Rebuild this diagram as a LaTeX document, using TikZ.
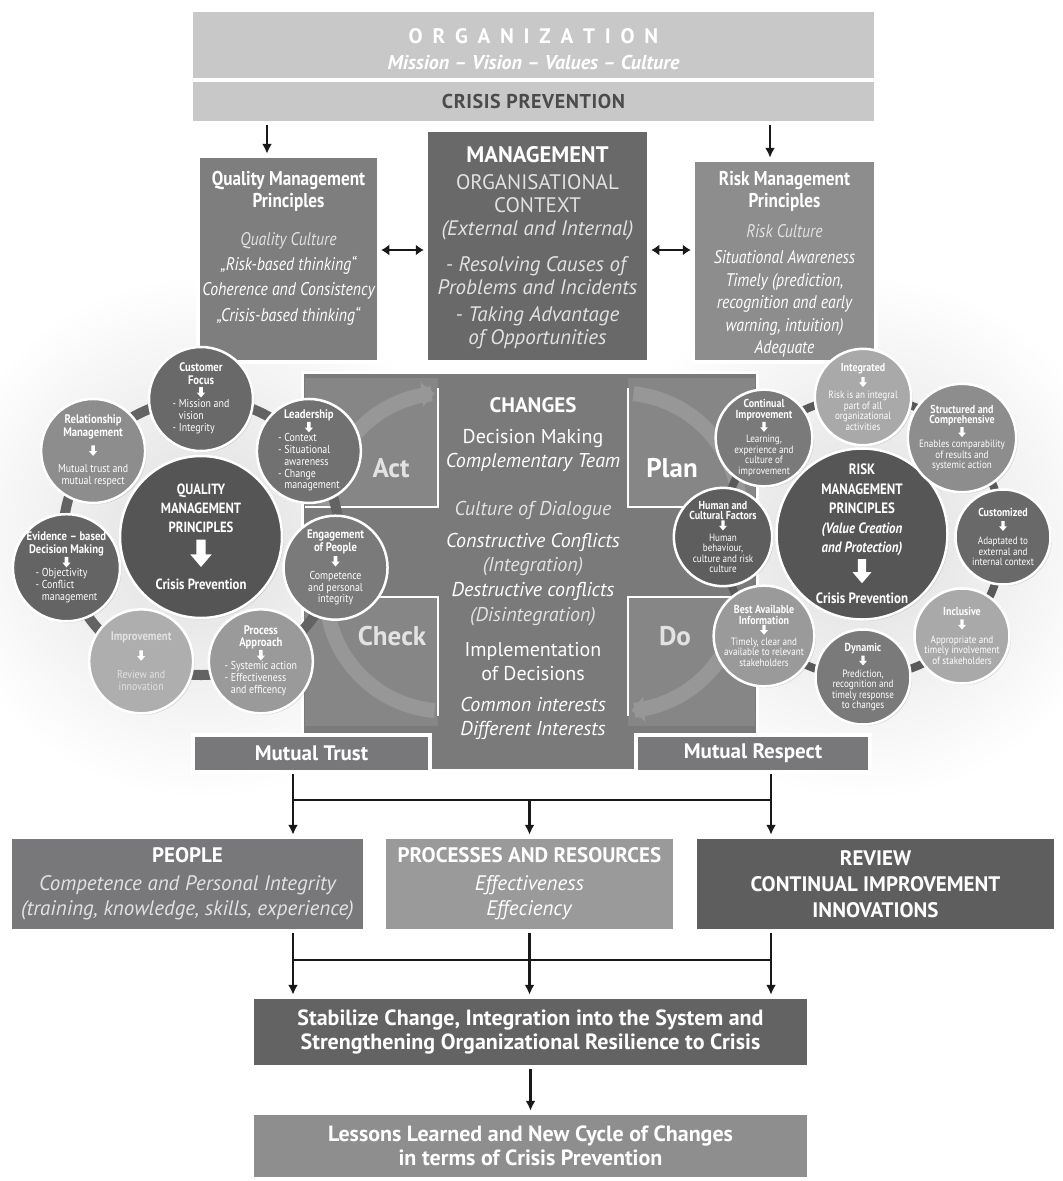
\documentclass[tikz,border=0pt]{standalone}
\usepackage{fontspec}
\setmainfont{PT Sans}
\newfontfamily\condfont[FakeStretch=0.86]{PT Sans}
\usetikzlibrary{arrows.meta, positioning, shadows, calc}
\definecolor{ctop}{HTML}{C8C8C9}
\definecolor{ctoptext}{HTML}{4B4B4C}
\definecolor{cqmbox}{HTML}{7E7E7F}
\definecolor{cmgbox}{HTML}{69696A}
\definecolor{crkbox}{HTML}{8D8D8E}
\definecolor{cpanel}{HTML}{7A7A7B}
\definecolor{cquad}{HTML}{868687}
\definecolor{carc}{HTML}{979798}
\definecolor{cdark}{HTML}{5E5E5F}
\definecolor{cmid}{HTML}{78787A}
\definecolor{clight}{HTML}{9A9A9B}
\definecolor{cring}{HTML}{636364}
\definecolor{cfaint}{HTML}{E2E2E2}
\newcommand{\fs}[2]{\fontsize{#1}{#2}\selectfont}
% \darr[scale]: the white down arrow used inside the principle circles
\newcommand{\darr}[1][1]{\tikz[x=#1pt, y=#1pt, baseline=0pt]\fill[white, draw=none] (-1.8,10.5)--(1.8,10.5)--(1.8,4.8)--(4.1,4.8)--(0,0)--(-4.1,4.8)--(-1.8,4.8)--cycle;}
\newcommand{\lst}[1]{\begin{tabular}{@{}l@{}}#1\end{tabular}}
\newcommand{\ls}{\hspace{9.8pt}}
\tikzset{
  box/.style={draw=white, fill=#1, line width=4.5pt, inner sep=0pt, align=center, text=white,
    drop shadow={opacity=0.22, shadow xshift=1.5pt, shadow yshift=-1.5pt}},
  box/.default=cmid,
  txt/.style={text=white, align=center, inner sep=0pt},
  disc/.style={circle, draw=white, fill=#1, line width=2.5pt, inner sep=0pt, minimum size=104pt,
    align=center, text=white, font=\condfont\fs{11.5}{11.8},
    drop shadow={opacity=0.25, shadow xshift=1.5pt, shadow yshift=-1.5pt}},
  rdisc/.style={disc=#1, minimum size=95pt, font=\condfont\fs{10.6}{10.6}},
  wire/.style={draw=black!90, line width=2.4pt},
  arrow/.style={wire, -{Latex[length=10pt, width=10pt]}},
  dblarrow/.style={draw=black!90, line width=2.2pt, {Latex[length=8pt, width=11pt]}-{Latex[length=8pt, width=11pt]}},
  pdca/.style={draw=carc, line width=15pt},
}
\newcommand{\lt}[1]{{\fontsize{12.4}{11.8}\selectfont\bfseries #1}}
\newcommand{\rt}[1]{{\fontsize{11.6}{10.6}\selectfont\bfseries #1}}
\begin{document}
\begin{tikzpicture}[x=1pt, y=-1pt]
\useasboundingbox (0,0) rectangle (1063,1181);
% soft halo behind the two principle rings
\begin{scope}
  \clip (0,0) rectangle (1063,1181);
  \shade[inner color=black!13, outer color=white] (201,537) circle[radius=262];
  \shade[inner color=black!13, outer color=white] (863,537) circle[radius=262];
\end{scope}

% organization
\node[box=ctop, minimum width=685pt, minimum height=70pt] (org) at (533.5,45) {};
\node[txt, font=\fs{21}{26}\bfseries] (orgtext) at (533.5,49)
  {O\ls R\ls G\ls A\ls N\ls I\ls Z\ls A\ls T\ls I\ls O\ls N\\{\fs{20}{26}\itshape Mission – Vision – Values – Culture}};
\node[box=ctop, minimum width=685pt, minimum height=43pt, text=ctoptext, font=\fs{20}{22}\bfseries\addfontfeature{LetterSpace=3}] (crisis) at (533.5,101.5) {CRISIS PREVENTION};

% three principle boxes
\node[box=cqmbox, minimum width=181pt, minimum height=206pt] (qmp) at (288.5,259) {};
\node[txt, anchor=north, font=\condfont\fs{20}{22}\bfseries] (qmptitle) at (288.5,171) {Quality Management\\Principles};
\node[txt, anchor=north, font=\condfont\fs{18.3}{25.3}\itshape] (qmptext) at (288.5,232)
  {\textcolor{cfaint}{Quality Culture}\\„Risk-based thinking“\\Coherence and Consistency\\„Crisis-based thinking“};

\node[box=cmgbox, minimum width=223pt, minimum height=232pt] (mgmt) at (537.5,246) {};
\node[txt, anchor=north, font=\fs{21}{23}, text=cfaint] (mgmttext) at (537.5,146)
  {\textcolor{white}{\fs{22.5}{23}\bfseries MANAGEMENT}\\[4pt]ORGANISATIONAL\\CONTEXT\\\textit{(External and Internal)}\\[13pt]\textit{- Resolving Causes of}\\\textit{Problems and Incidents}\\[4pt]\textit{- Taking Advantage}\\\textit{of Opportunities}};

\node[box=crkbox, minimum width=183pt, minimum height=202pt] (risk) at (784.5,261) {};
\node[txt, anchor=north, font=\condfont\fs{20}{22}\bfseries] (risktitle) at (784.5,171) {Risk Management\\Principles};
\node[txt, anchor=north, font=\condfont\fs{18.3}{22.5}\itshape] (risktext) at (784.5,224)
  {\textcolor{cfaint}{Risk Culture}\\[4pt]Situational Awareness\\Timely (prediction,\\recognition and early\\warning, intuition)\\Adequate};

\draw[arrow, line width=2pt] ([xshift=-21.5pt]qmp.north |- crisis.south) -- ([xshift=-21.5pt]qmp.north);
\draw[arrow, line width=2pt] ([xshift=-14.5pt]risk.north |- crisis.south) -- ([xshift=-14.5pt]risk.north);
\draw[dblarrow] ([yshift=9pt]qmp.east) -- ([yshift=9pt]qmp.east -| mgmt.west);
\draw[dblarrow] ([yshift=-4pt]mgmt.east) -- ([yshift=-4pt]mgmt.east -| risk.west);

% changes panel with the PDCA cycle
\node[box=cpanel, line width=3pt, minimum width=455pt, minimum height=398pt] (changes) at (530,571.5) {};
\fill[cquad] (305,378) rectangle (438,507) (628,378) rectangle (755,507)
  (305,597) rectangle (438,726) (628,597) rectangle (755,726);
\draw[white, line width=2.5pt] (305,507) -- (438,507) -- (438,388) (628,388) -- (628,507) -- (755,507)
  (305,597) -- (438,597) -- (438,716) (628,716) -- (628,597) -- (755,597);
\draw[pdca, -{Triangle[length=13pt, width=24pt]}] plot[domain=183:265, samples=40, smooth] ({445+119*cos(\x)}, {512+119*sin(\x)});
\draw[pdca] plot[domain=276:358, samples=40, smooth] ({621+119*cos(\x)}, {512+119*sin(\x)});
\draw[pdca, -{Triangle[length=13pt, width=24pt]}] plot[domain=2:85, samples=40, smooth] ({621+119*cos(\x)}, {592+119*sin(\x)});
\draw[pdca] plot[domain=95:177, samples=40, smooth] ({445+119*cos(\x)}, {592+119*sin(\x)});
\node[txt, font=\fs{27}{28}\bfseries, text=cfaint] (actq) at (391,468) {Act};
\node[txt, font=\fs{27}{28}\bfseries] (planq) at (672,468) {Plan};
\node[txt, font=\fs{27}{28}\bfseries, text=cfaint] (checkq) at (392,636) {Check};
\node[txt, font=\fs{27}{28}\bfseries, text=cfaint] (doq) at (675,636) {Do};
\node[txt, anchor=north, font=\fs{20}{23.5}] (changetext) at (533,397)
  {\textbf{\fs{21}{23.5}CHANGES}\\[8pt]Decision Making\\\textit{Complementary Team}\\[25pt]%
   \textit{\textcolor{cfaint}{Culture of Dialogue}}\\[8.5pt]\textit{Constructive Conflicts}\\\textit{\textcolor{cfaint}{(Integration)}}\\[2pt]%
   \textit{Destructive conflicts}\\[1.5pt]\textit{\textcolor{cfaint}{(Disintegration)}}\\[11.5pt]Implementation\\of Decisions\\[8pt]%
   \textit{Common interests}\\\textit{Different Interests}};
\node[box, minimum width=237pt, minimum height=37pt, font=\fs{21}{22}\bfseries] (trust) at (311.5,753.5) {Mutual Trust};
\node[box, minimum width=234pt, minimum height=37pt, font=\fs{21}{22}\bfseries] (respect) at (753,753.5) {Mutual Respect};

% quality management principles (left ring)
\coordinate (qc) at (201,537);
\draw[cring, line width=10pt] (qc) circle[radius=138];
\node[disc=cdark!90!black, minimum size=162pt, font=\condfont\fs{14.8}{19}\bfseries] (qmpc) at (qc)
  {QUALITY\\MANAGEMENT\\PRINCIPLES\\[6pt]\darr[2.6]\\[4pt]Crisis Prevention};
\node[disc=cmgbox] (custfocus) at ([shift={(-90:138)}]qc)
  {\lt{Customer}\\[1pt]\lt{Focus}\\[1pt]\darr\\[1pt]\lst{- Mission and\\\phantom{- }vision\\- Integrity}};
\node[disc=cqmbox!110] (leadership) at ([shift={(-38.57:138)}]qc)
  {\lt{Leadership}\\\darr\\\lst{- Context\\- Situational\\\phantom{- }awareness\\- Change\\\phantom{- }management}};
\node[disc=cpanel] (engagement) at ([shift={(12.86:138)}]qc)
  {\lt{Engagement}\\[1pt]\lt{of People}\\[1pt]\darr\\[1pt]Competence\\and personal\\integrity};
\node[disc=clight] (process) at ([shift={(64.29:138)}]qc)
  {\lt{Process}\\\lt{Approach}\\\darr\\\lst{- Systemic action\\- Effectiveness\\\phantom{- }and efficency}};
\node[disc=clight!80!white, text=cfaint] (improvement) at ([shift={(115.71:138)}]qc)
  {\lt{Improvement}\\[6pt]\darr\\[6pt]Review and\\innovation};
\node[disc=cmgbox!95!black] (evidence) at ([shift={(167.14:138)}]qc)
  {\lt{Evidence – based}\\[1pt]\lt{Decision Making}\\\darr\\\lst{- Objectivity\\- Conflict\\\phantom{- }management}};
\node[disc=crkbox] (relationship) at ([shift={(218.57:138)}]qc)
  {\lt{Relationship}\\[1pt]\lt{Management}\\[5pt]\darr\\[5pt]Mutual trust and\\mutual respect};

% risk management principles (right ring)
\coordinate (rc) at (863,537);
\draw[cring!90!black, line width=8pt] (rc) circle[radius=140];
\node[disc=cdark!92!black, minimum size=171pt, font=\condfont\fs{15}{19.5}\bfseries] (rmpc) at (862,534)
  {RISK\\MANAGEMENT\\PRINCIPLES\\\textit{(Value Creation}\\\textit{and Protection)}\\[2pt]\darr[2.3]\\[1pt]Crisis Prevention};
\node[rdisc=clight!85!white] (integrated) at ([shift={(-90:140)}]rc)
  {\rt{Integrated}\\[2pt]\darr[0.95]\\[1pt]Risk is an integral\\part of all\\organizational\\activities};
\node[rdisc=crkbox] (structured) at ([shift={(-45:140)}]rc)
  {\rt{Structured and}\\\rt{Comprehensive}\\\darr[0.95]\\Enables comparability\\of results and\\systemic action};
\node[rdisc=cmgbox] (customized) at ([shift={(0:140)}]rc)
  {\rt{Customized}\\[4pt]\darr[0.95]\\[3pt]Adaptated to\\external and\\internal context};
\node[rdisc=clight!85!white] (inclusive) at ([shift={(45:140)}]rc)
  {\rt{Inclusive}\\[3pt]\darr[0.95]\\[3pt]Appropriate and\\timely involvement\\of stakeholders};
\node[rdisc=cpanel] (dynamic) at ([shift={(90:140)}]rc)
  {\rt{Dynamic}\\[1pt]\darr[0.95]\\[1pt]Prediction,\\recognition and\\timely response\\to changes};
\node[rdisc=clight] (bestinfo) at ([shift={(135:140)}]rc)
  {\rt{Best Available}\\\rt{Information}\\\darr[0.95]\\Timely, clear and\\available to relevant\\stakeholders};
\node[rdisc=cdark] (humanfac) at ([shift={(180:140)}]rc)
  {\rt{Human and}\\\rt{Cultural Factors}\\\darr[0.95]\\Human\\behaviour,\\culture and risk\\culture};
\node[rdisc=cpanel] (continual) at ([shift={(225:140)}]rc)
  {\rt{Continual}\\\rt{Improvement}\\\darr[0.95]\\Learning,\\experience and\\culture of\\improvement};

% resources and outcome
\node[box=cmid, minimum width=355pt, minimum height=94pt, font=\fs{21}{25}] (people) at (187.5,884)
  {\textbf{PEOPLE}\\[3pt]\textit{\textcolor{cfaint}{Competence and Personal Integrity}}\\\textit{\textcolor{cfaint}{(training, knowledge, skills, experience)}}};
\node[box=clight, minimum width=291pt, minimum height=94pt, font=\fs{21}{25}] (proc) at (529.5,884)
  {\textbf{PROCESSES AND RESOURCES}\\[3pt]\textit{Effectiveness}\\\textit{Effeciency}};
\node[box=cdark, minimum width=361pt, minimum height=94pt, font=\fs{21}{26}\bfseries] (review) at (875.5,884)
  {REVIEW\\CONTINUAL IMPROVEMENT\\INNOVATIONS};
\node[box=cdark!97!white, minimum width=557pt, minimum height=70pt, font=\fs{22}{24}\bfseries] (stab) at (530.5,1032)
  {Stabilize Change, Integration into the System and\\Strengthening Organizational Resilience to Crisis};
\node[box=clight!92!black, minimum width=557pt, minimum height=66pt, font=\fs{22}{24}\bfseries] (lessons) at (530.5,1146)
  {Lessons Learned and New Cycle of Changes\\in terms of Crisis Prevention};

\coordinate (b1l) at (293,800);
\coordinate (b1r) at (771,800);
\coordinate (b2l) at (293,960);
\coordinate (b2r) at (771,960);
\draw[wire] (b1l) -- (b1r);
\draw[arrow] (trust.south -| b1l) -- (b1l |- people.north);
\draw[arrow] (respect.south -| b1r) -- (b1r |- review.north);
\draw[arrow] (b1l -| proc) -- (proc.north);
\draw[wire] (b2l) -- (b2r);
\draw[arrow] (people.south -| b2l) -- (b2l |- stab.north);
\draw[arrow] (review.south -| b2r) -- (b2r |- stab.north);
\draw[arrow] (proc.south) -- (proc.south |- stab.north);
\draw[arrow] (stab.south) -- (lessons.north);
\end{tikzpicture}
\end{document}
